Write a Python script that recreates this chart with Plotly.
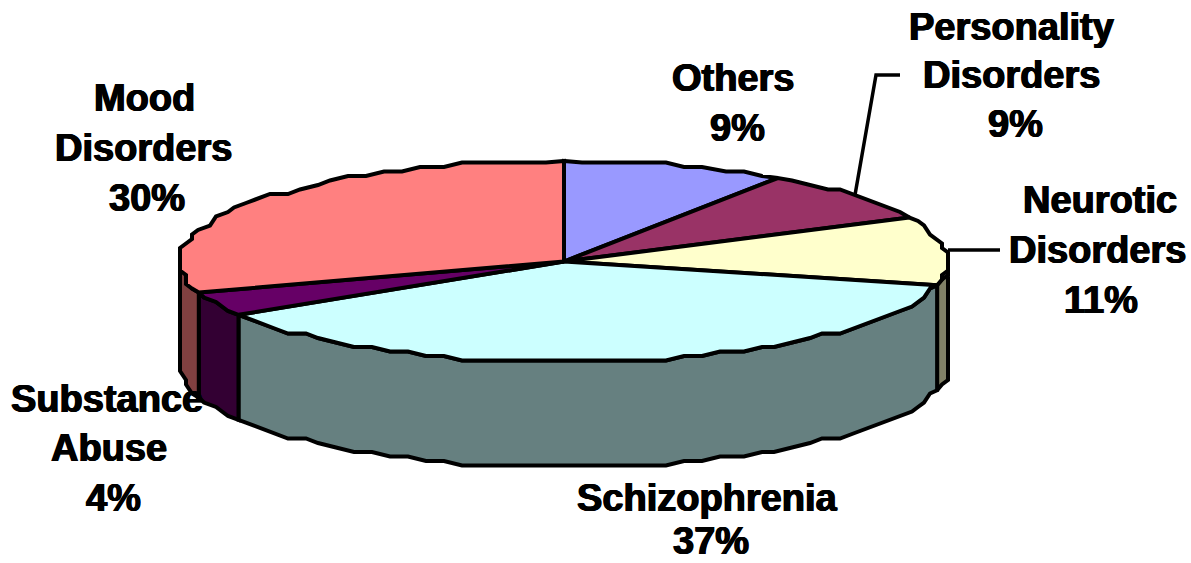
import math
import plotly.graph_objects as go

categories = ["Others", "Personality Disorders", "Neurotic Disorders", "Schizophrenia", "Substance Abuse", "Mood Disorders"]
values = [9.4, 8.4, 11.0, 37.3, 3.9, 30.0]
top_colors = ["#9999FF", "#993366", "#FFFFCC", "#CCFFFF", "#660066", "#FF8080"]
side_colors = ["#4D4D80", "#4D1A33", "#808066", "#668080", "#330033", "#804040"]
label_lines = [["Others", "9%"], ["Personality", "Disorders", "9%"], ["Neurotic", "Disorders", "11%"],
               ["Schizophrenia", "37%"], ["Substance", "Abuse", "4%"], ["Mood", "Disorders", "30%"]]
label_x = [[733, 737], [1011, 1011, 1015], [1100, 1097, 1101], [707, 711], [107, 109, 113], [144, 143, 147]]
label_y = [[78, 128], [27, 75, 124], [200, 250, 300], [498, 541], [399, 448, 498], [98, 148, 198]]

CX, CY, RX, RY, DEPTH = 564, 261.5, 384, 100.5, 105
GX, GY = 6, 4.5
FONT = "Liberation Sans, Arial, sans-serif"
SIZE = 38
LW = 4


def pt(frac, snap=True):
    a = 2 * math.pi * frac
    dx, dy = RX * math.sin(a), -RY * math.cos(a)
    if snap:
        dx, dy = round(dx / GX) * GX, round(dy / GY) * GY
    return CX + dx, CY + dy


def rim(f0, f1):
    n = max(2, int(abs(f1 - f0) * 120))
    pts = [pt(f0, False)]
    for i in range(1, n):
        p = pt(f0 + (f1 - f0) * i / n)
        if p != pts[-1]:
            pts.append(p)
    pts.append(pt(f1, False))
    return pts


fracs = [0]
total = sum(values)
for v in values:
    fracs.append(fracs[-1] + v / total)

fig = go.Figure()


def poly(pts, color):
    xs = [p[0] for p in pts] + [pts[0][0]]
    ys = [p[1] for p in pts] + [pts[0][1]]
    fig.add_trace(go.Scatter(x=xs, y=ys, mode="lines", fill="toself", fillcolor=color,
                             line=dict(color="black", width=LW), hoverinfo="skip", showlegend=False))


# side walls: only the front half of the rim (fractions .25 to .75) is visible
for i in range(len(values)):
    a, b = max(fracs[i], 0.25), min(fracs[i + 1], 0.75)
    if a < b:
        r = rim(a, b)
        poly(r + [(x, y + DEPTH) for x, y in reversed(r)], side_colors[i])

for i in range(len(values)):
    poly([(CX, CY)] + rim(fracs[i], fracs[i + 1]), top_colors[i])

# leader lines
fig.add_trace(go.Scatter(x=[855, 876, 900], y=[195, 75, 75], mode="lines",
                         line=dict(color="black", width=LW - 0.5), hoverinfo="skip", showlegend=False))
fig.add_trace(go.Scatter(x=[948, 1000], y=[250, 250], mode="lines",
                         line=dict(color="black", width=LW - 0.5), hoverinfo="skip", showlegend=False))

for lines, xs, ys in zip(label_lines, label_x, label_y):
    for t, x, y in zip(lines, xs, ys):
        fig.add_annotation(x=x, y=y, text=f"<b>{t}</b>", showarrow=False, xanchor="center", yanchor="middle",
                           font=dict(family=FONT, size=SIZE, color="black",
                                     shadow="0.7px 0 0 black, -0.7px 0 0 black, 0 0.4px 0 black"))

fig.update_layout(width=1191, height=563, margin=dict(l=0, r=0, t=0, b=0), autosize=False,
                  paper_bgcolor="white", plot_bgcolor="white",
                  xaxis=dict(range=[0, 1191], visible=False, fixedrange=True),
                  yaxis=dict(range=[563, 0], visible=False, fixedrange=True))
fig.write_html("out.html", config={"displayModeBar": False},
               post_script="document.body.style.margin='0';document.body.style.overflow='hidden';")
